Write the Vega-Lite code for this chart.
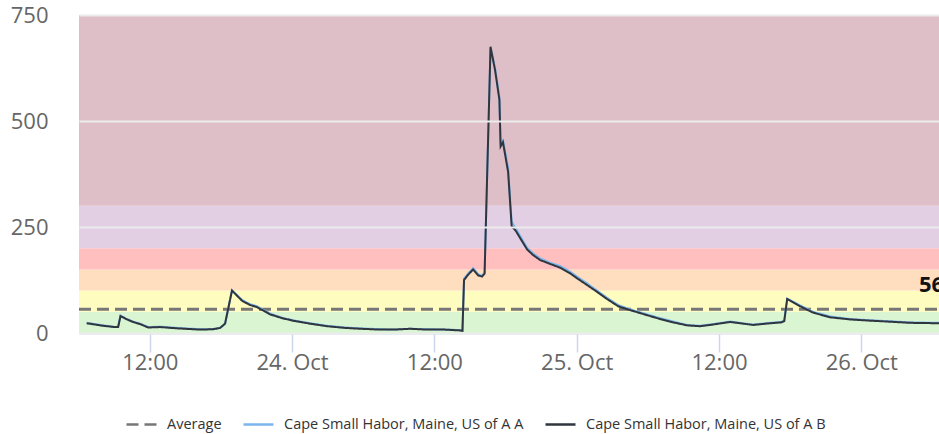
{
  "$schema": "https://vega.github.io/schema/vega-lite/v6.json",
  "width": 860,
  "height": 318,
  "autosize": {"type": "none"},
  "padding": {"left": 79, "top": 15, "right": 0, "bottom": 101},
  "background": "white",
  "config": {"view": {"stroke": null}},
  "datasets": {
    "bands": [
      {"lo": 0, "hi": 50, "level": "Good"},
      {"lo": 50, "hi": 100, "level": "Moderate"},
      {"lo": 100, "hi": 150, "level": "USG"},
      {"lo": 150, "hi": 200, "level": "Unhealthy"},
      {"lo": 200, "hi": 300, "level": "Very Unhealthy"},
      {"lo": 300, "hi": 750, "level": "Hazardous"}
    ],
    "avg": [
      {"series": "Average", "start": "2023-10-23T06:02:00", "end": "2023-10-26T06:33:00", "value": 56}
    ],
    "avglabel": [
      {"time": "2023-10-26T04:52:00", "value": 56, "label": "56"}
    ],
    "readings": [
      {"time": "2023-10-23T06:41:00", "B": 23, "A": 24},
      {"time": "2023-10-23T07:23:00", "B": 20, "A": 21},
      {"time": "2023-10-23T08:04:00", "B": 17, "A": 18},
      {"time": "2023-10-23T09:04:00", "B": 14, "A": 14},
      {"time": "2023-10-23T09:20:00", "B": 14, "A": 15},
      {"time": "2023-10-23T09:32:00", "B": 40, "A": 41},
      {"time": "2023-10-23T10:00:00", "B": 33, "A": 34},
      {"time": "2023-10-23T10:35:00", "B": 26, "A": 27},
      {"time": "2023-10-23T11:11:00", "B": 21, "A": 22},
      {"time": "2023-10-23T11:52:00", "B": 13, "A": 14},
      {"time": "2023-10-23T12:52:00", "B": 14, "A": 15},
      {"time": "2023-10-23T14:18:00", "B": 11, "A": 12},
      {"time": "2023-10-23T16:14:00", "B": 8, "A": 9},
      {"time": "2023-10-23T17:20:00", "B": 9, "A": 9},
      {"time": "2023-10-23T17:56:00", "B": 12, "A": 12},
      {"time": "2023-10-23T18:21:00", "B": 22, "A": 22},
      {"time": "2023-10-23T18:56:00", "B": 100, "A": 101},
      {"time": "2023-10-23T19:47:00", "B": 76, "A": 78},
      {"time": "2023-10-23T20:27:00", "B": 66, "A": 68},
      {"time": "2023-10-23T21:03:00", "B": 61, "A": 63},
      {"time": "2023-10-23T22:08:00", "B": 44, "A": 46},
      {"time": "2023-10-23T23:10:00", "B": 35, "A": 36},
      {"time": "2023-10-24T00:05:00", "B": 29, "A": 30},
      {"time": "2023-10-24T01:31:00", "B": 22, "A": 23},
      {"time": "2023-10-24T02:57:00", "B": 16, "A": 17},
      {"time": "2023-10-24T04:28:00", "B": 12, "A": 13},
      {"time": "2023-10-24T05:44:00", "B": 10, "A": 11},
      {"time": "2023-10-24T07:25:00", "B": 8, "A": 9},
      {"time": "2023-10-24T08:31:00", "B": 8, "A": 8},
      {"time": "2023-10-24T09:57:00", "B": 10, "A": 10},
      {"time": "2023-10-24T11:23:00", "B": 8, "A": 9},
      {"time": "2023-10-24T12:54:00", "B": 8, "A": 8},
      {"time": "2023-10-24T14:10:00", "B": 6, "A": 7},
      {"time": "2023-10-24T14:22:00", "B": 5, "A": 6},
      {"time": "2023-10-24T14:30:00", "B": 125, "A": 128},
      {"time": "2023-10-24T14:50:00", "B": 137, "A": 140},
      {"time": "2023-10-24T15:16:00", "B": 150, "A": 153},
      {"time": "2023-10-24T15:41:00", "B": 136, "A": 139},
      {"time": "2023-10-24T16:01:00", "B": 133, "A": 135},
      {"time": "2023-10-24T16:14:00", "B": 140, "A": 143},
      {"time": "2023-10-24T16:44:00", "B": 675, "A": 672},
      {"time": "2023-10-24T17:07:00", "B": 620, "A": 625},
      {"time": "2023-10-24T17:29:00", "B": 550, "A": 556},
      {"time": "2023-10-24T17:35:00", "B": 440, "A": 450},
      {"time": "2023-10-24T17:47:00", "B": 450, "A": 455},
      {"time": "2023-10-24T18:13:00", "B": 380, "A": 390},
      {"time": "2023-10-24T18:31:00", "B": 252, "A": 262},
      {"time": "2023-10-24T18:53:00", "B": 240, "A": 246},
      {"time": "2023-10-24T19:19:00", "B": 220, "A": 225},
      {"time": "2023-10-24T19:49:00", "B": 197, "A": 201},
      {"time": "2023-10-24T20:19:00", "B": 184, "A": 188},
      {"time": "2023-10-24T20:55:00", "B": 172, "A": 176},
      {"time": "2023-10-24T21:45:00", "B": 163, "A": 166},
      {"time": "2023-10-24T22:36:00", "B": 154, "A": 158},
      {"time": "2023-10-24T23:26:00", "B": 141, "A": 145},
      {"time": "2023-10-25T00:02:00", "B": 129, "A": 133},
      {"time": "2023-10-25T00:53:00", "B": 113, "A": 117},
      {"time": "2023-10-25T01:43:00", "B": 97, "A": 100},
      {"time": "2023-10-25T02:34:00", "B": 80, "A": 83},
      {"time": "2023-10-25T03:30:00", "B": 63, "A": 66},
      {"time": "2023-10-25T04:30:00", "B": 54, "A": 56},
      {"time": "2023-10-25T05:56:00", "B": 42, "A": 44},
      {"time": "2023-10-25T07:02:00", "B": 33, "A": 35},
      {"time": "2023-10-25T08:08:00", "B": 25, "A": 27},
      {"time": "2023-10-25T09:19:00", "B": 18, "A": 19},
      {"time": "2023-10-25T10:25:00", "B": 16, "A": 17},
      {"time": "2023-10-25T11:30:00", "B": 20, "A": 21},
      {"time": "2023-10-25T12:56:00", "B": 26, "A": 27},
      {"time": "2023-10-25T14:02:00", "B": 22, "A": 23},
      {"time": "2023-10-25T14:53:00", "B": 19, "A": 20},
      {"time": "2023-10-25T16:19:00", "B": 23, "A": 24},
      {"time": "2023-10-25T17:14:00", "B": 25, "A": 26},
      {"time": "2023-10-25T17:30:00", "B": 28, "A": 29},
      {"time": "2023-10-25T17:45:00", "B": 80, "A": 81},
      {"time": "2023-10-25T18:51:00", "B": 63, "A": 65},
      {"time": "2023-10-25T19:56:00", "B": 48, "A": 50},
      {"time": "2023-10-25T21:22:00", "B": 37, "A": 39},
      {"time": "2023-10-25T23:04:00", "B": 32, "A": 33},
      {"time": "2023-10-26T00:10:00", "B": 30, "A": 31},
      {"time": "2023-10-26T02:11:00", "B": 27, "A": 28},
      {"time": "2023-10-26T04:07:00", "B": 24, "A": 25},
      {"time": "2023-10-26T06:33:00", "B": 23, "A": 24}
    ]
  },
  "layer": [
    {
      "data": {"name": "bands"},
      "mark": {"type": "rect"},
      "encoding": {
        "y": {
          "field": "lo",
          "type": "quantitative",
          "scale": {"domain": [0, 750], "nice": false},
          "axis": {
            "title": null,
            "values": [0, 250, 500, 750],
            "grid": true,
            "gridColor": "#ececec",
            "gridWidth": 2,
            "domain": false,
            "ticks": false,
            "labelPadding": 31,
            "labelFontSize": 22,
            "labelColor": "#666666",
            "labelFont": "Open Sans",
            "zindex": 1
          }
        },
        "y2": {"field": "hi"},
        "fill": {
          "field": "level",
          "type": "nominal",
          "scale": {
            "domain": ["Good", "Moderate", "USG", "Unhealthy", "Very Unhealthy", "Hazardous"],
            "range": ["#d9f5d1", "#fffcbf", "#ffdebf", "#ffbfbf", "#e2cfe4", "#dfbfc7"]
          },
          "legend": null
        }
      }
    },
    {
      "data": {"name": "avg"},
      "mark": {"type": "rule", "strokeWidth": 3},
      "encoding": {
        "x": {"field": "start", "type": "temporal"},
        "x2": {"field": "end"},
        "y": {"field": "value", "type": "quantitative"},
        "color": {
          "field": "series",
          "type": "nominal",
          "scale": {
            "domain": ["Average", "A", "B"],
            "range": ["#777777", "#7cb5ec", "#2f3640"]
          },
          "legend": {
            "title": null,
            "orient": "bottom",
            "direction": "horizontal",
            "symbolType": "stroke",
            "symbolSize": 900,
            "symbolStrokeWidth": 2.5,
            "labelFont": "Open Sans",
            "labelFontSize": 14.5,
            "labelColor": "#333333",
            "labelOffset": 9,
            "columnPadding": 16,
            "labelLimit": 400,
            "padding": 46,
            "offset": -11,
            "labelExpr": "datum.label == 'Average' ? 'Average' : 'Cape Small Habor, Maine, US of A ' + datum.label"
          }
        },
        "strokeDash": {
          "field": "series",
          "type": "nominal",
          "scale": {
            "domain": ["Average", "A", "B"],
            "range": [[12, 6], [1, 0], [1, 0]]
          },
          "legend": {
            "title": null,
            "orient": "bottom",
            "direction": "horizontal",
            "symbolType": "stroke",
            "symbolSize": 900,
            "symbolStrokeWidth": 2.5,
            "labelFont": "Open Sans",
            "labelFontSize": 14.5,
            "labelColor": "#333333",
            "labelOffset": 9,
            "columnPadding": 16,
            "labelLimit": 400,
            "padding": 46,
            "offset": -11,
            "labelExpr": "datum.label == 'Average' ? 'Average' : 'Cape Small Habor, Maine, US of A ' + datum.label"
          }
        }
      }
    },
    {
      "data": {"name": "readings"},
      "transform": [{"fold": ["A", "B"], "as": ["series", "value"]}],
      "mark": {"type": "line", "strokeWidth": 2},
      "encoding": {
        "x": {
          "field": "time",
          "type": "temporal",
          "axis": {
            "title": null,
            "grid": false,
            "tickCount": 6,
            "labelExpr": "hours(datum.value) == 0 ? timeFormat(datum.value, '%d. %b') : timeFormat(datum.value, '%H:%M')",
            "labelFontSize": 22,
            "labelColor": "#666666",
            "labelFont": "Open Sans",
            "labelPadding": 0,
            "labelFlush": false,
            "labelOverlap": false,
            "domainColor": "#ccd6eb",
            "domainWidth": 2,
            "tickColor": "#ccd6eb",
            "tickWidth": 1.5,
            "tickSize": 19
          }
        },
        "y": {"field": "value", "type": "quantitative"},
        "color": {"field": "series", "type": "nominal"},
        "strokeDash": {"field": "series", "type": "nominal"}
      }
    },
    {
      "data": {"name": "avglabel"},
      "mark": {"type": "text", "align": "left", "baseline": "middle", "dy": -24, "fontSize": 22, "fontWeight": "bold", "color": "#111111", "font": "Open Sans"},
      "encoding": {
        "x": {"field": "time", "type": "temporal"},
        "y": {"field": "value", "type": "quantitative"},
        "text": {"field": "label"}
      }
    }
  ]
}
